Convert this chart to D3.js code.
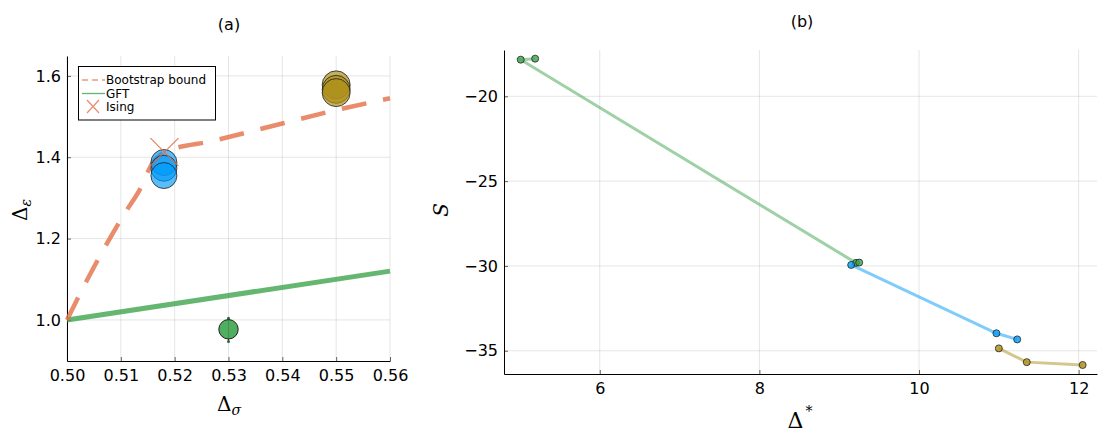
<!DOCTYPE html>
<html>
<head>
<meta charset="utf-8">
<script src="https://cdn.jsdelivr.net/npm/d3@7"></script>
<style>
body { margin: 0; background: #fff; }
svg { font-family: "DejaVu Sans", sans-serif; }
.grid line { stroke: #000; stroke-opacity: 0.1; }
</style>
</head>
<body>
<div id="chart"></div>
<script>
// panel (a)
const bootstrapX = [0.5, 0.504, 0.5085, 0.5112, 0.5135, 0.5159, 0.5181, 0.527, 0.54, 0.55, 0.56];
const bootstrapY = [1.0, 1.105, 1.213, 1.272, 1.32, 1.386, 1.4126, 1.44, 1.483, 1.516, 1.545];
const gftX = [0.5, 0.56];
const gftY = [1.0, 1.12];
const ising = [0.5181, 1.4126];
const blueDots = [[0.518, 1.387], [0.518, 1.373], [0.518, 1.355]];
const goldDots = [[0.55, 1.578], [0.55, 1.567], [0.55, 1.559]];
const greenDot = [0.53, 0.977];
const greenErr = [0.947, 1.004];
const xTicksA = [0.50, 0.51, 0.52, 0.53, 0.54, 0.55, 0.56];
const yTicksA = [1.0, 1.2, 1.4, 1.6];

// panel (b)
const greenX = [5.19, 5.01, 9.21, 9.25];
const greenY = [-17.78, -17.84, -29.82, -29.8];
const blueX = [9.15, 10.97, 11.23];
const blueY = [-29.94, -33.97, -34.33];
const goldX = [11.0, 11.35, 12.05];
const goldY = [-34.86, -35.67, -35.84];
const xTicksB = [6, 8, 10, 12];
const yTicksB = [-20, -25, -30, -35];

const colors = { blue: "#009AFA", orange: "#E36F47", green: "#3EA44E", gold: "#AC8E18" };

const svg = d3.select("#chart").append("svg")
    .attr("width", 1099)
    .attr("height", 432);

function panel(box, xDomain, yDomain, xTicks, yTicks, xFmt, yFmt) {
    const x = d3.scaleLinear().domain(xDomain).range([box.left, box.right]);
    const y = d3.scaleLinear().domain(yDomain).range([box.bottom, box.top]);
    const g = svg.append("g");

    g.append("g").attr("class", "grid")
        .selectAll("line").data(xTicks).enter().append("line")
        .attr("x1", d => x(d)).attr("x2", d => x(d))
        .attr("y1", box.top).attr("y2", box.bottom);
    g.append("g").attr("class", "grid")
        .selectAll("line").data(yTicks).enter().append("line")
        .attr("x1", box.left).attr("x2", box.right)
        .attr("y1", d => y(d)).attr("y2", d => y(d));

    const xAxis = g.append("g")
        .attr("transform", `translate(0,${box.bottom})`)
        .call(d3.axisBottom(x).tickValues(xTicks).tickFormat(xFmt).tickSizeInner(-4).tickSizeOuter(0).tickPadding(9));
    const yAxis = g.append("g")
        .attr("transform", `translate(${box.left},0)`)
        .call(d3.axisLeft(y).tickValues(yTicks).tickFormat(yFmt).tickSizeInner(-4).tickSizeOuter(0).tickPadding(6));
    [xAxis, yAxis].forEach(a => {
        a.selectAll("text").attr("font-size", 16).attr("fill", "#000").attr("font-family", "DejaVu Sans");
        a.selectAll(".tick line").attr("stroke", "#000").attr("stroke-opacity", 0.6);
        a.select(".domain").attr("stroke", "#000").attr("stroke-width", 1);
    });
    return { x, y, g };
}

// ---------- (a)
const boxA = { left: 67, right: 390, top: 56, bottom: 361 };
const A = panel(boxA, [0.5, 0.56], [0.899, 1.649], xTicksA, yTicksA, d3.format(".2f"), d3.format(".1f"));

const lineA = d3.line().x(d => A.x(d[0])).y(d => A.y(d[1]));

A.g.append("path")
    .datum(gftX.map((v, i) => [v, gftY[i]]))
    .attr("d", lineA)
    .attr("fill", "none")
    .attr("stroke", colors.green).attr("stroke-opacity", 0.8)
    .attr("stroke-width", 5);

A.g.append("path")
    .datum(bootstrapX.map((v, i) => [v, bootstrapY[i]]))
    .attr("d", lineA.curve(d3.curveMonotoneX))
    .attr("fill", "none")
    .attr("stroke", colors.orange).attr("stroke-opacity", 0.8)
    .attr("stroke-width", 4.5)
    .attr("stroke-dasharray", "25,17");

// green dot with error bar
A.g.append("line")
    .attr("x1", A.x(greenDot[0])).attr("x2", A.x(greenDot[0]))
    .attr("y1", A.y(greenErr[0])).attr("y2", A.y(greenErr[1]))
    .attr("stroke", "#222").attr("stroke-width", 1.2);
A.g.selectAll(".errcap").data(greenErr).enter().append("circle")
    .attr("cx", A.x(greenDot[0])).attr("cy", d => A.y(d)).attr("r", 1.5)
    .attr("fill", "#2a6a36");
A.g.append("circle")
    .attr("cx", A.x(greenDot[0])).attr("cy", A.y(greenDot[1])).attr("r", 9.7)
    .attr("fill", colors.green).attr("fill-opacity", 0.9)
    .attr("stroke", "#222").attr("stroke-width", 1);

A.g.selectAll(".blue").data(blueDots).enter().append("circle")
    .attr("cx", d => A.x(d[0])).attr("cy", d => A.y(d[1])).attr("r", 13)
    .attr("fill", colors.blue).attr("fill-opacity", 0.65)
    .attr("stroke", "#222").attr("stroke-opacity", 0.8).attr("stroke-width", 1);

A.g.selectAll(".gold").data(goldDots).enter().append("circle")
    .attr("cx", d => A.x(d[0])).attr("cy", d => A.y(d[1])).attr("r", 14)
    .attr("fill", colors.gold).attr("fill-opacity", 0.7)
    .attr("stroke", "#222").attr("stroke-opacity", 0.8).attr("stroke-width", 1);

// Ising cross
const ix = A.x(ising[0]), iy = A.y(ising[1]), s = 14;
A.g.append("path")
    .attr("d", `M${ix - s},${iy - s}L${ix + s},${iy + s}M${ix - s},${iy + s}L${ix + s},${iy - s}`)
    .attr("stroke", colors.orange).attr("stroke-opacity", 0.85).attr("stroke-width", 1.3);

// legend
const leg = A.g.append("g");
leg.append("rect").attr("x", 78.5).attr("y", 66.5).attr("width", 137).attr("height", 53.5)
    .attr("fill", "#fff").attr("stroke", "#000").attr("stroke-width", 1);
const legItems = [
    { label: "Bootstrap bound", y: 80 },
    { label: "GFT", y: 93.5 },
    { label: "Ising", y: 107 }
];
leg.append("line").attr("x1", 82).attr("x2", 105).attr("y1", 80).attr("y2", 80)
    .attr("stroke", colors.orange).attr("stroke-opacity", 0.7).attr("stroke-width", 1.3).attr("stroke-dasharray", "6,4");
leg.append("line").attr("x1", 82).attr("x2", 105).attr("y1", 93.5).attr("y2", 93.5)
    .attr("stroke", colors.green).attr("stroke-opacity", 0.8).attr("stroke-width", 1.3);
leg.append("path")
    .attr("d", "M87,100L99,113M87,113L99,100")
    .attr("stroke", colors.orange).attr("stroke-opacity", 0.8).attr("stroke-width", 1.2);
leg.selectAll("text").data(legItems).enter().append("text")
    .attr("x", 106).attr("y", d => d.y).attr("dy", "0.35em")
    .attr("font-size", 12).text(d => d.label);

svg.append("text").attr("x", 229).attr("y", 30).attr("text-anchor", "middle")
    .attr("font-size", 16).text("(a)");

const xlabA = svg.append("text").attr("x", 229).attr("y", 411).attr("text-anchor", "middle")
    .attr("font-family", "DejaVu Serif").attr("font-size", 20);
xlabA.append("tspan").text("Δ");
xlabA.append("tspan").attr("dy", 4).attr("font-size", 14).attr("font-style", "italic").text("σ");

const ylabA = svg.append("text").attr("transform", "translate(27,210) rotate(-90)").attr("text-anchor", "middle")
    .attr("font-family", "DejaVu Serif").attr("font-size", 20);
ylabA.append("tspan").text("Δ");
ylabA.append("tspan").attr("dy", 4).attr("font-size", 14).attr("font-style", "italic").text("ε");

// ---------- (b)
const boxB = { left: 504, right: 1097, top: 50, bottom: 374 };
const minus = d => d3.format("d")(d).replace("-", "\u2212");
const B = panel(boxB, [4.8, 12.23], [-36.37, -17.27], xTicksB, yTicksB, d3.format("d"), minus);

const lineB = d3.line().x(d => B.x(d[0])).y(d => B.y(d[1]));
const seriesB = [
    { xs: greenX, ys: greenY, c: colors.green },
    { xs: blueX, ys: blueY, c: colors.blue },
    { xs: goldX, ys: goldY, c: colors.gold }
];
seriesB.forEach(sr => {
    const pts = sr.xs.map((v, i) => [v, sr.ys[i]]);
    B.g.append("path").datum(pts).attr("d", lineB)
        .attr("fill", "none").attr("stroke", sr.c).attr("stroke-opacity", 0.5).attr("stroke-width", 3);
});
seriesB.forEach(sr => {
    const pts = sr.xs.map((v, i) => [v, sr.ys[i]]);
    B.g.append("g").selectAll("circle").data(pts).enter().append("circle")
        .attr("cx", d => B.x(d[0])).attr("cy", d => B.y(d[1])).attr("r", 3.5)
        .attr("fill", sr.c).attr("fill-opacity", 0.8)
        .attr("stroke", "#222").attr("stroke-opacity", 0.8).attr("stroke-width", 1);
});

svg.append("text").attr("x", 802).attr("y", 27).attr("text-anchor", "middle")
    .attr("font-size", 16).text("(b)");

const xlabB = svg.append("text").attr("x", 800).attr("y", 428).attr("text-anchor", "middle")
    .attr("font-family", "DejaVu Serif").attr("font-size", 22);
xlabB.append("tspan").text("Δ");
xlabB.append("tspan").attr("dx", 2).attr("dy", -12).attr("font-size", 14).text("*");

svg.append("text").attr("transform", "translate(448,210) rotate(-90)").attr("text-anchor", "middle")
    .attr("font-family", "DejaVu Serif").attr("font-style", "italic").attr("font-size", 20).text("S");
</script>
</body>
</html>
